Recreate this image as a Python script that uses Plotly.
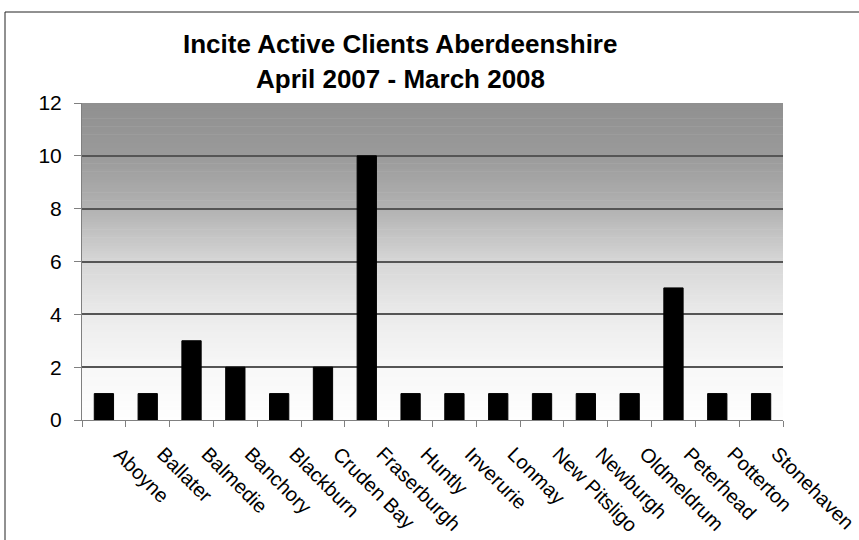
import plotly.graph_objects as go
import numpy as np

towns = ["Aboyne", "Ballater", "Balmedie", "Banchory", "Blackburn", "Cruden Bay",
         "Fraserburgh", "Huntly", "Inverurie", "Lonmay", "New Pitsligo", "Newburgh",
         "Oldmeldrum", "Peterhead", "Potterton", "Stonehaven"]
clients = [1, 1, 3, 2, 1, 2, 10, 1, 1, 1, 1, 1, 1, 5, 1, 1]
y_ticks = [0, 2, 4, 6, 8, 10, 12]
title_lines = ["Incite Active Clients Aberdeenshire", "April 2007 - March 2008"]

fig = go.Figure()
fig.add_trace(go.Bar(
    x=towns, y=clients,
    marker=dict(color="black", line=dict(color="black", width=1)),
    width=0.44,
))

# gradient background (grey at top to white at bottom)
stops_y = [0, 2, 4, 6, 8, 10, 12]
stops_c = [0xfe, 0xf7, 0xeb, 0xd6, 0xb2, 0x9a, 0x90]
n = 120
shapes = []
edges = np.linspace(0, 12, n + 1)
for i in range(n):
    mid = (edges[i] + edges[i + 1]) / 2
    c = int(round(np.interp(mid, stops_y, stops_c)))
    col = f"rgb({c},{c},{c})"
    shapes.append(dict(type="rect", xref="paper", yref="y", x0=0, x1=1,
                       y0=edges[i], y1=edges[i + 1] + 0.02, fillcolor=col,
                       line=dict(width=0), layer="below"))

L, R, T, B = 82, 76, 103, 120
W, H = 859, 540
pw, ph = W - L - R, H - T - B
def px_x(v):
    return (v - L) / pw
def px_y(v):
    return 1 + (T - v) / ph

# outer chart frame (partially cropped in the reference)
shapes.append(dict(type="rect", xref="paper", yref="paper", x0=px_x(5), x1=1.5,
                   y0=-1, y1=px_y(12), line=dict(color="#222222", width=1),
                   fillcolor="rgba(0,0,0,0)", layer="below"))

title_font = dict(family="Liberation Sans, Arial", size=26, color="black")
annotations = [
    dict(text=f"<b>{title_lines[0]}</b>", xref="paper", yref="paper", x=px_x(400), y=px_y(44),
         xanchor="center", yanchor="middle", showarrow=False, font=title_font),
    dict(text=f"<b>{title_lines[1]}</b>", xref="paper", yref="paper", x=px_x(400), y=px_y(79),
         xanchor="center", yanchor="middle", showarrow=False, font=title_font),
]
# rotated category labels, tops aligned just below the axis
for i, t in enumerate(towns):
    annotations.append(dict(
        text=t, x=i, xref="x", y=px_y(440), yref="paper",
        xanchor="left", yanchor="top", textangle=45, showarrow=False, xshift=3,
        font=dict(family="Liberation Sans, Arial", size=20, color="black"),
    ))

fig.update_layout(
    width=W, height=H,
    margin=dict(l=L, r=R, t=T, b=B),
    paper_bgcolor="white",
    plot_bgcolor="rgba(0,0,0,0)",
    showlegend=False,
    shapes=shapes,
    annotations=annotations,
    font=dict(family="Liberation Sans, Arial", color="black"),
)
fig.update_xaxes(
    showticklabels=False, range=[-0.5, len(towns) - 0.5],
    showline=True, linecolor="#808080", linewidth=1,
    ticks="outside", ticklen=6, tickcolor="#808080", tickson="boundaries",
    showgrid=False, automargin=False,
)
fig.update_yaxes(
    range=[0, 12], tickvals=y_ticks, tickfont=dict(size=21, color="black"),
    showline=True, linecolor="#808080", linewidth=1,
    ticks="outside", ticklen=7, tickcolor="#808080", ticklabelstandoff=8,
    showgrid=True, gridcolor="#555555", gridwidth=1.5, zeroline=False,
    automargin=False,
)

fig.write_html("out.html", config={"displayModeBar": False},
               post_script="document.body.style.margin='0';document.body.style.overflow='hidden';")
